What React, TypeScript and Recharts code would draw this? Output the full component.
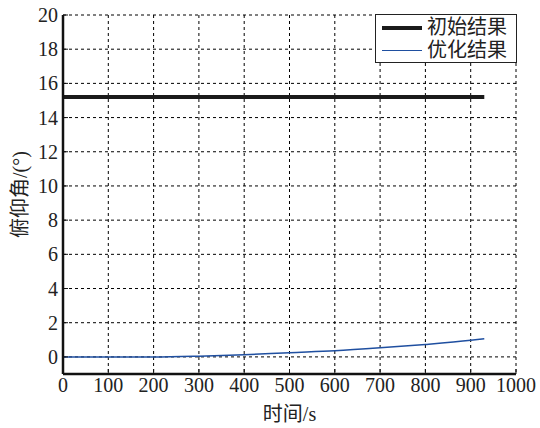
import { LineChart, Line, XAxis, YAxis, CartesianGrid } from "recharts";

const timeTicks = [0, 100, 200, 300, 400, 500, 600, 700, 800, 900, 1000];
const angleTicks = [0, 2, 4, 6, 8, 10, 12, 14, 16, 18, 20];

const times = [0, 100, 200, 300, 400, 500, 600, 700, 800, 900, 930];
const initialAngle = [15.2, 15.2, 15.2, 15.2, 15.2, 15.2, 15.2, 15.2, 15.2, 15.2, 15.2];
const optimizedAngle = [0, 0, -0.01, 0.04, 0.13, 0.25, 0.36, 0.53, 0.73, 0.97, 1.06];

const seriesNames = ["初始结果", "优化结果"];

const data = times.map((t, i) => ({
    t,
    initial: initialAngle[i],
    optimized: optimizedAngle[i],
}));

const font = "Liberation Serif, Noto Sans CJK SC, serif";
const blank = () => "";

function LegendBox() {
    const items = [
        { name: seriesNames[0], color: "#1a1a1a", width: 4 },
        { name: seriesNames[1], color: "#1f4fa0", width: 1.5 },
    ];
    return (
        <div
            style={{
                position: "absolute",
                top: 14,
                left: 375,
                width: 142,
                height: 49,
                boxSizing: "border-box",
                border: "1px solid #222",
                background: "#fff",
                padding: "1px 0 0 6px",
                fontFamily: font,
                fontSize: 20,
                lineHeight: "23px",
                color: "#222",
            }}
        >
            {items.map((it) => (
                <div key={it.name} style={{ display: "flex", alignItems: "center" }}>
                    <div style={{ width: 40, height: it.width, background: it.color, marginRight: 5 }} />
                    <span>{it.name}</span>
                </div>
            ))}
        </div>
    );
}

export default function App() {
    return (
        <div style={{ position: "absolute", left: 0, top: 0, width: 540, height: 428, background: "#fff" }}>
            <LineChart width={540} height={428} data={data} margin={{ top: 15, right: 24, bottom: 0, left: 0 }}>
                <CartesianGrid stroke="#000" strokeDasharray="3 3" strokeWidth={1} />
                <XAxis
                    dataKey="t"
                    type="number"
                    domain={[0, 1000]}
                    ticks={timeTicks}
                    interval={0}
                    axisLine={{ stroke: "#111", strokeWidth: 2.5 }}
                    tickLine={{ stroke: "#111" }}
                    tickSize={-5}
                    tickMargin={9}
                    height={54}
                    tick={{ fill: "#222", fontSize: 20, fontFamily: font }}
                    label={{ value: "时间/s", position: "insideBottom", offset: 7, fill: "#222", fontSize: 20, fontFamily: font }}
                />
                <XAxis
                    xAxisId="top"
                    orientation="top"
                    type="number"
                    domain={[0, 1000]}
                    ticks={timeTicks}
                    interval={0}
                    height={0}
                    axisLine={{ stroke: "#111", strokeWidth: 2 }}
                    tickLine={{ stroke: "#111" }}
                    tickSize={-5}
                    tickFormatter={blank}
                />
                <YAxis
                    type="number"
                    domain={[-1, 20]}
                    ticks={angleTicks}
                    width={63}
                    interval={0}
                    axisLine={{ stroke: "#111", strokeWidth: 2.5 }}
                    tickLine={{ stroke: "#111" }}
                    tickSize={-5}
                    tickMargin={10}
                    tick={{ fill: "#222", fontSize: 20, fontFamily: font }}
                    label={{ value: "俯仰角/(°)", angle: -90, position: "insideLeft", offset: 20, fill: "#222", fontSize: 20, fontFamily: font, style: { textAnchor: "middle" } }}
                />
                <YAxis
                    yAxisId="right"
                    orientation="right"
                    type="number"
                    domain={[-1, 20]}
                    ticks={angleTicks}
                    interval={0}
                    width={0}
                    axisLine={{ stroke: "#111", strokeWidth: 2.5 }}
                    tickLine={{ stroke: "#111" }}
                    tickSize={-5}
                    tickFormatter={blank}
                />
                <Line
                    dataKey="initial"
                    name={seriesNames[0]}
                    stroke="#1a1a1a"
                    strokeWidth={4}
                    dot={false}
                    isAnimationActive={false}
                />
                <Line
                    dataKey="optimized"
                    name={seriesNames[1]}
                    type="monotone"
                    stroke="#1f4fa0"
                    strokeWidth={1.5}
                    dot={false}
                    isAnimationActive={false}
                />
            </LineChart>
            <LegendBox />
        </div>
    );
}
